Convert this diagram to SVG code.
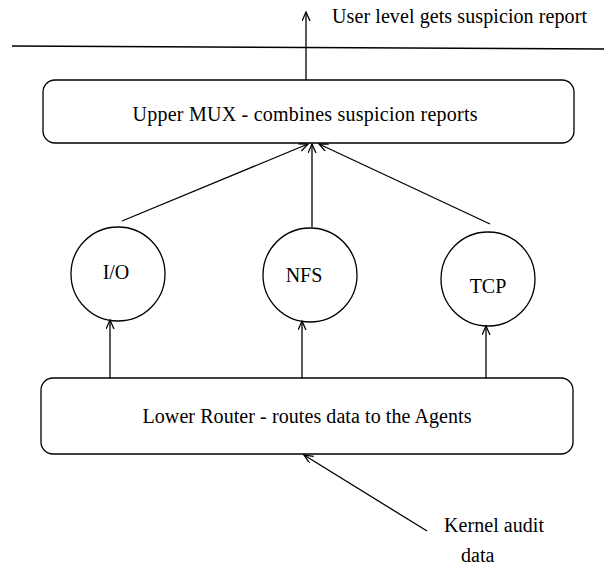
<svg xmlns="http://www.w3.org/2000/svg" width="605" height="566" viewBox="0 0 605 566">
<style>
.t{font-family:"Liberation Serif","Times New Roman",serif;font-size:20px;fill:#000}
.s{fill:none;stroke:#000;stroke-width:1.3}
.c{fill:none;stroke:#000;stroke-width:1.3}
</style>
<defs>
<marker id="a" markerUnits="userSpaceOnUse" markerWidth="12" markerHeight="10" refX="9" refY="4" orient="auto">
<path d="M0,0 L9,4 L0,8" fill="none" stroke="#000" stroke-width="1.3"/>
</marker>
</defs>
<rect width="605" height="566" fill="#fff"/>
<g id="boundary">
<line class="s" x1="12" y1="46" x2="604" y2="49"/>
<text class="t" x="332" y="23" textLength="255" lengthAdjust="spacing">User level gets suspicion report</text>
</g>
<g id="upper-mux">
<rect class="s" x="43" y="80" width="531" height="63" rx="12"/>
<text class="t" x="305" y="121" text-anchor="middle" textLength="345" lengthAdjust="spacing">Upper MUX - combines suspicion reports</text>
</g>
<g id="io">
<circle class="s" cx="118" cy="274" r="47"/>
<text class="t" x="116" y="279" text-anchor="middle">I/O</text>
</g>
<g id="nfs">
<circle class="s" cx="310" cy="275" r="47"/>
<text class="t" x="304" y="282" text-anchor="middle">NFS</text>
</g>
<g id="tcp">
<circle class="s" cx="488" cy="279" r="47"/>
<text class="t" x="488" y="293" text-anchor="middle">TCP</text>
</g>
<g id="lower-router">
<rect class="s" x="41" y="378" width="532" height="76" rx="12"/>
<text class="t" x="307" y="423" text-anchor="middle" textLength="329" lengthAdjust="spacing">Lower Router - routes data to the Agents</text>
</g>
<g id="kernel-label">
<text class="t" x="444" y="532" textLength="100" lengthAdjust="spacing">Kernel audit</text>
<text class="t" x="461" y="562">data</text>
</g>
<g id="connectors">
<line class="c" x1="306" y1="80" x2="306" y2="12" marker-end="url(#a)"/>
<line class="c" x1="122" y1="221" x2="308" y2="144" marker-end="url(#a)"/>
<line class="c" x1="312" y1="227" x2="312" y2="144" marker-end="url(#a)"/>
<line class="c" x1="490" y1="224" x2="319" y2="144" marker-end="url(#a)"/>
<line class="c" x1="110" y1="378" x2="110" y2="320" marker-end="url(#a)"/>
<line class="c" x1="302" y1="378" x2="302" y2="321" marker-end="url(#a)"/>
<line class="c" x1="486" y1="378" x2="486" y2="326" marker-end="url(#a)"/>
<line class="c" x1="427" y1="531" x2="304" y2="455" marker-end="url(#a)"/>
</g>
</svg>
